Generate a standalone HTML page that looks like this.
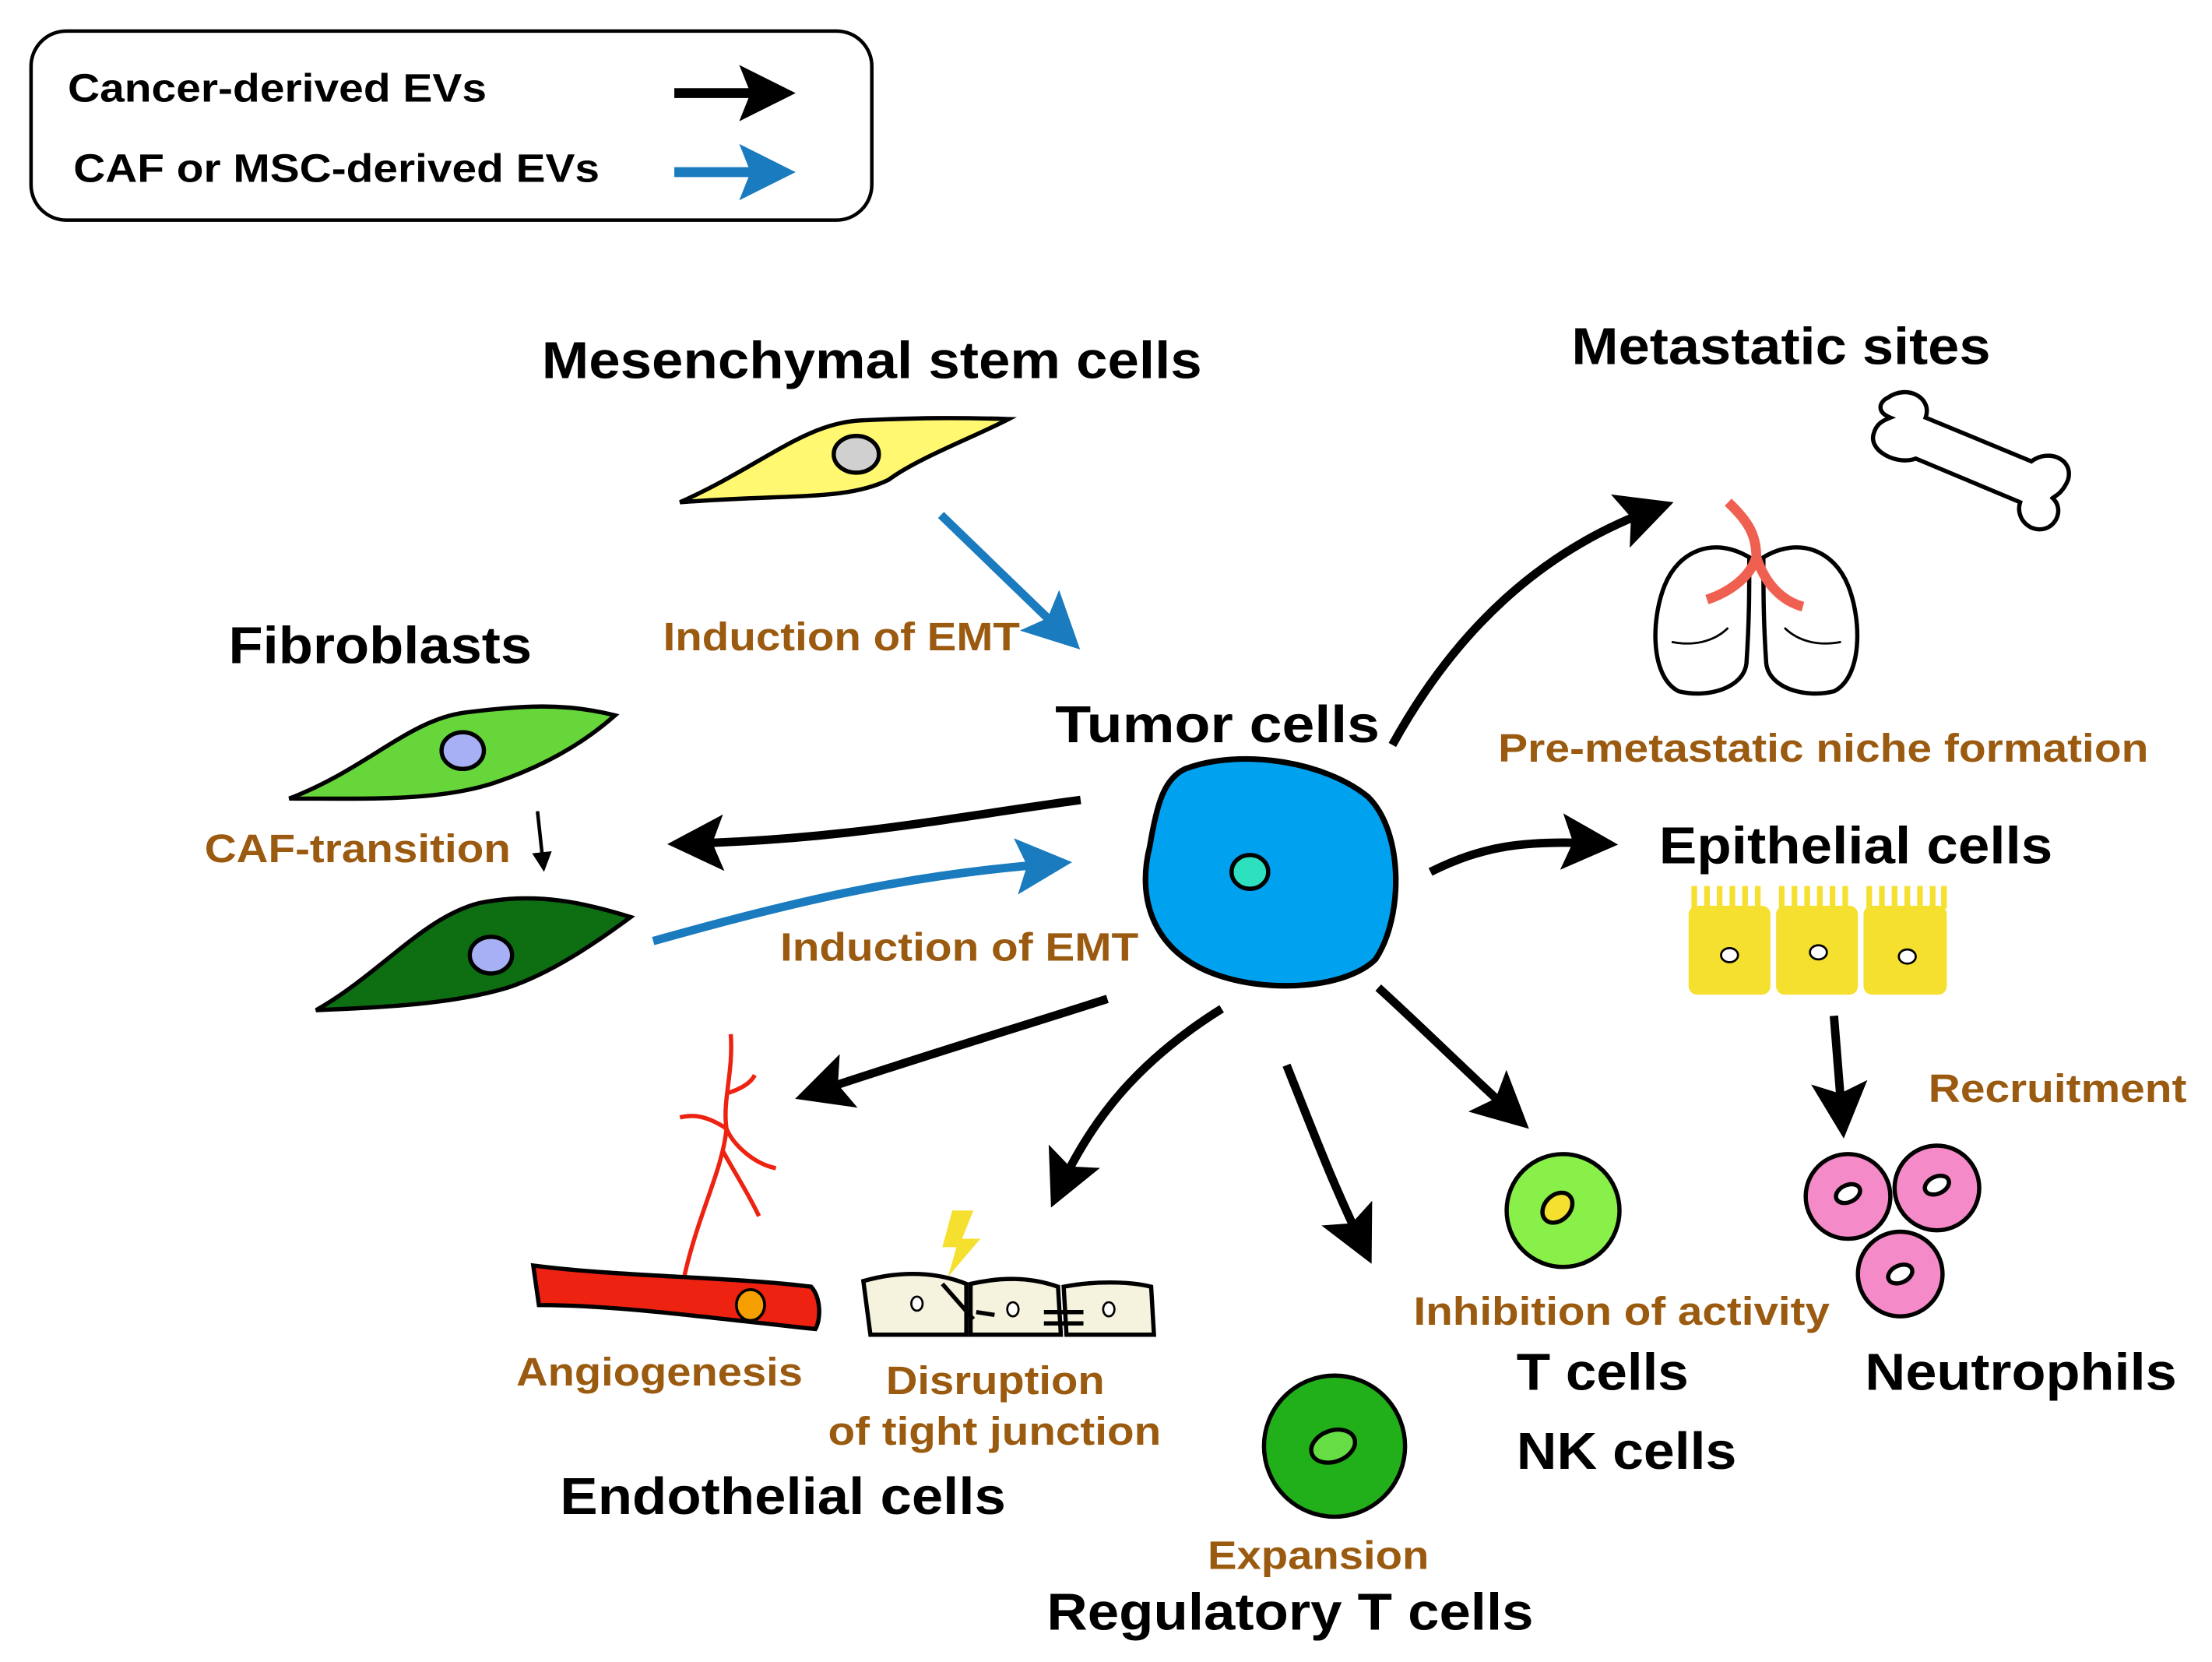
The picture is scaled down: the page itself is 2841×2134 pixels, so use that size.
<!DOCTYPE html>
<html><head><meta charset="utf-8"><style>
html,body{margin:0;padding:0;background:#fff;}
svg{display:block;}
text{font-family:"Liberation Sans",Arial,sans-serif;font-weight:bold;}
.b{fill:#9a5a10;font-size:28px;}
.k{fill:#000;font-size:37px;}
</style></head><body>
<svg width="2841" height="2134" viewBox="0 0 1568 1178" preserveAspectRatio="none" xmlns="http://www.w3.org/2000/svg">
<defs>
<marker id="akb" markerWidth="44" markerHeight="44" refX="30" refY="22" orient="auto" markerUnits="userSpaceOnUse" viewBox="0 0 44 44"><path d="M2,2 L42,22 L2,42 L10,22 Z" fill="#000"/></marker>
<marker id="abb" markerWidth="44" markerHeight="44" refX="30" refY="22" orient="auto" markerUnits="userSpaceOnUse" viewBox="0 0 44 44"><path d="M2,2 L42,22 L2,42 L10,22 Z" fill="#1a7bbf"/></marker>
<marker id="aks" markerWidth="14" markerHeight="14" refX="8" refY="7" orient="auto" markerUnits="userSpaceOnUse" viewBox="0 0 14 14"><path d="M0,0 L14,7 L0,14 Z" fill="#000"/></marker>
</defs>
<!-- legend -->
<rect x="22" y="22" width="596" height="134" rx="25" fill="#fff" stroke="#000" stroke-width="2.5"/>
<text x="48" y="72" style="font-size:28px" textLength="297" lengthAdjust="spacingAndGlyphs">Cancer-derived EVs</text>
<text x="52" y="129" style="font-size:28px" textLength="373" lengthAdjust="spacingAndGlyphs">CAF or MSC-derived EVs</text>
<line x1="478" y1="66" x2="552" y2="66" stroke="#000" stroke-width="7" marker-end="url(#akb)"/>
<line x1="478" y1="122" x2="552" y2="122" stroke="#1a7bbf" stroke-width="7" marker-end="url(#abb)"/>

<!-- MSC -->
<text x="384" y="268" class="k" textLength="468" lengthAdjust="spacingAndGlyphs">Mesenchymal stem cells</text>
<path d="M482,356 C540,330 570,300 610,298 C650,296 680,296 715,297 C690,310 650,325 630,340 C600,355 560,350 482,356 Z" fill="#fff870" stroke="#000" stroke-width="3"/>
<ellipse cx="607" cy="322" rx="16" ry="13" fill="#d0d0d0" stroke="#000" stroke-width="3"/>
<line x1="667" y1="365" x2="757" y2="452" stroke="#1a7bbf" stroke-width="6" marker-end="url(#abb)"/>
<text x="470" y="461" class="b" textLength="253" lengthAdjust="spacingAndGlyphs">Induction of EMT</text>

<!-- fibroblasts -->
<text x="162" y="470" class="k" textLength="215" lengthAdjust="spacingAndGlyphs">Fibroblasts</text>
<path d="M205,566 C260,545 290,510 330,505 C370,500 400,498 436,507 C410,530 380,545 350,555 C310,568 260,566 205,566 Z" fill="#66d63a" stroke="#000" stroke-width="3"/>
<ellipse cx="328" cy="532" rx="15" ry="13" fill="#a8b0f5" stroke="#000" stroke-width="3"/>
<text x="145" y="611" class="b" textLength="217" lengthAdjust="spacingAndGlyphs">CAF-transition</text>
<line x1="381" y1="575" x2="385" y2="612" stroke="#000" stroke-width="2.5" marker-end="url(#aks)"/>
<path d="M224,716 C270,690 300,650 340,640 C380,632 415,640 447,650 C420,670 390,690 360,700 C320,712 270,714 224,716 Z" fill="#0e6e12" stroke="#000" stroke-width="3"/>
<ellipse cx="348" cy="677" rx="15" ry="13" fill="#a8b0f5" stroke="#000" stroke-width="3"/>

<!-- tumor -->
<text x="748" y="526" class="k" textLength="230" lengthAdjust="spacingAndGlyphs">Tumor cells</text>
<path d="M840,545 C880,530 940,540 970,565 C995,590 995,650 975,680 C955,700 900,705 860,690 C820,675 805,640 815,600 C820,570 825,552 840,545 Z" fill="#00a2f0" stroke="#000" stroke-width="4"/>
<ellipse cx="886" cy="618" rx="13" ry="12" fill="#2de0c0" stroke="#000" stroke-width="3"/>
<path d="M766,567 C670,580 600,595 485,598" fill="none" stroke="#000" stroke-width="6" marker-end="url(#akb)"/>
<path d="M463,667 C560,640 640,620 748,612" fill="none" stroke="#1a7bbf" stroke-width="6" marker-end="url(#abb)"/>
<text x="553" y="681" class="b" textLength="254" lengthAdjust="spacingAndGlyphs">Induction of EMT</text>

<!-- metastatic -->
<path d="M987,528 C1030,450 1090,390 1175,360" fill="none" stroke="#000" stroke-width="6" marker-end="url(#akb)"/>
<text x="1114" y="258" class="k" textLength="297" lengthAdjust="spacingAndGlyphs">Metastatic sites</text>
<path d="M1338,282 C1352,272 1370,282 1365,296 L1440,327 C1452,318 1470,325 1466,340 C1462,350 1456,352 1455,353 C1465,362 1455,380 1440,374 C1432,370 1430,362 1432,356 L1358,325 C1345,330 1325,320 1328,308 C1330,300 1335,298 1340,296 C1330,292 1332,285 1338,282 Z" fill="#fff" stroke="#000" stroke-width="3"/>
<path d="M1240,395 C1240,420 1240,440 1238,470 C1236,488 1210,495 1190,490 C1170,480 1170,440 1180,415 C1190,390 1215,380 1240,395 Z" fill="#fff" stroke="#000" stroke-width="3"/>
<path d="M1250,395 C1250,420 1250,440 1252,470 C1254,488 1280,495 1300,490 C1320,480 1320,440 1310,415 C1300,390 1275,380 1250,395 Z" fill="#fff" stroke="#000" stroke-width="3"/>
<path d="M1185,455 C1200,458 1215,455 1225,445 M1305,455 C1290,458 1275,455 1265,445" fill="none" stroke="#000" stroke-width="1.5"/>
<path d="M1225,356 C1240,370 1245,380 1245,395 M1245,395 C1240,410 1225,420 1210,425 M1245,395 C1250,410 1260,425 1278,430" fill="none" stroke="#f06050" stroke-width="7"/>
<text x="1062" y="540" class="b" textLength="461" lengthAdjust="spacingAndGlyphs">Pre-metastatic niche formation</text>

<!-- epithelial -->
<path d="M1014,618 C1050,600 1080,595 1135,598" fill="none" stroke="#000" stroke-width="6" marker-end="url(#akb)"/>
<text x="1176" y="612" class="k" textLength="279" lengthAdjust="spacingAndGlyphs">Epithelial cells</text>
<g fill="#f5e030">
<rect x="1197" y="642" width="58" height="63" rx="6"/>
<rect x="1259" y="642" width="58" height="63" rx="6"/>
<rect x="1321" y="642" width="59" height="63" rx="6"/>
</g>
<g stroke="#f5e030" stroke-width="4">
<path d="M1201,628v16M1210,628v16M1219,628v16M1228,628v16M1237,628v16M1246,628v16M1263,628v16M1272,628v16M1281,628v16M1290,628v16M1299,628v16M1308,628v16M1325,628v16M1334,628v16M1343,628v16M1352,628v16M1361,628v16M1370,628v16M1378,628v16"/>
</g>
<g fill="#fff" stroke="#000" stroke-width="1.5">
<ellipse cx="1226" cy="677" rx="6" ry="5"/><ellipse cx="1289" cy="675" rx="6" ry="5"/><ellipse cx="1352" cy="678" rx="6" ry="5"/>
</g>
<line x1="1300" y1="720" x2="1306" y2="795" stroke="#000" stroke-width="6" marker-end="url(#akb)"/>
<text x="1367" y="781" class="b" textLength="183" lengthAdjust="spacingAndGlyphs">Recruitment</text>
<g fill="#f58ac8" stroke="#000" stroke-width="3">
<circle cx="1310" cy="848" r="30"/><circle cx="1373" cy="842" r="30"/><circle cx="1347" cy="903" r="30"/>
</g>
<g fill="#fff" stroke="#000" stroke-width="3">
<ellipse cx="1310" cy="846" rx="9" ry="6" transform="rotate(-25 1310 846)"/><ellipse cx="1373" cy="840" rx="9" ry="6" transform="rotate(-25 1373 840)"/><ellipse cx="1347" cy="903" rx="9" ry="6" transform="rotate(-25 1347 903)"/>
</g>
<text x="1322" y="985" class="k" textLength="221" lengthAdjust="spacingAndGlyphs">Neutrophils</text>

<!-- T cells -->
<path d="M977,700 C1010,730 1040,760 1075,792" fill="none" stroke="#000" stroke-width="6" marker-end="url(#akb)"/>
<circle cx="1108" cy="858" r="40" fill="#88f048" stroke="#000" stroke-width="3"/>
<ellipse cx="1104" cy="856" rx="12" ry="9" fill="#f5e030" stroke="#000" stroke-width="3" transform="rotate(-45 1104 856)"/>
<text x="1002" y="939" class="b" textLength="295" lengthAdjust="spacingAndGlyphs">Inhibition of activity</text>
<text x="1075" y="985" class="k" textLength="122" lengthAdjust="spacingAndGlyphs">T cells</text>
<text x="1075" y="1041" class="k" textLength="156" lengthAdjust="spacingAndGlyphs">NK cells</text>

<!-- Treg -->
<path d="M912,755 C930,800 945,840 967,885" fill="none" stroke="#000" stroke-width="6" marker-end="url(#akb)"/>
<circle cx="946" cy="1025" r="50" fill="#22b01a" stroke="#000" stroke-width="3"/>
<ellipse cx="945" cy="1025" rx="16" ry="11" fill="#66dd44" stroke="#000" stroke-width="3" transform="rotate(-20 945 1025)"/>
<text x="856" y="1112" class="b" textLength="157" lengthAdjust="spacingAndGlyphs">Expansion</text>
<text x="742" y="1155" class="k" textLength="345" lengthAdjust="spacingAndGlyphs">Regulatory T cells</text>

<!-- tight junction -->
<path d="M866,715 C810,750 775,790 750,845" fill="none" stroke="#000" stroke-width="6" marker-end="url(#akb)"/>
<path d="M675,858 L690,858 L682,878 L695,878 L672,905 L678,884 L668,884 Z" fill="#f5e030"/>
<g fill="#f5f3dd" stroke="#000" stroke-width="3">
<path d="M612,908 C640,900 665,902 685,910 L685,946 L617,946 Z"/>
<path d="M688,910 C710,905 730,905 750,912 L752,946 L688,946 Z"/>
<path d="M754,912 C775,908 800,908 816,912 L818,946 L756,946 Z"/>
</g>
<g fill="#fff" stroke="#000" stroke-width="1.5"><ellipse cx="650" cy="924" rx="4" ry="5"/><ellipse cx="718" cy="928" rx="4" ry="5"/><ellipse cx="786" cy="928" rx="4" ry="5"/></g>
<path d="M668,910 L690,935 M692,930 L705,932 M740,930 L768,930 M740,938 L768,938" stroke="#000" stroke-width="3"/>
<text x="628" y="988" class="b" textLength="155" lengthAdjust="spacingAndGlyphs">Disruption</text>
<text x="587" y="1024" class="b" textLength="236" lengthAdjust="spacingAndGlyphs">of tight junction</text>

<!-- endothelial -->
<path d="M785,708 C700,735 650,750 575,775" fill="none" stroke="#000" stroke-width="6" marker-end="url(#akb)"/>
<path d="M518,733 C520,760 512,780 515,800 C512,830 495,860 485,905 M515,775 C525,772 532,768 535,762 M515,800 C500,790 490,790 482,792 M515,800 C520,812 535,825 550,828 M512,815 C520,830 530,845 538,862" fill="none" stroke="#ee2211" stroke-width="3"/>
<path d="M378,897 C440,905 520,905 575,912 C582,920 582,935 578,942 C510,935 440,925 382,925 Z" fill="#ee2211" stroke="#000" stroke-width="3"/>
<ellipse cx="532" cy="925" rx="10" ry="11" fill="#f5a000" stroke="#000" stroke-width="2"/>
<text x="366" y="982" class="b" textLength="203" lengthAdjust="spacingAndGlyphs">Angiogenesis</text>
<text x="397" y="1073" class="k" textLength="316" lengthAdjust="spacingAndGlyphs">Endothelial cells</text>
</svg>
</body></html>
